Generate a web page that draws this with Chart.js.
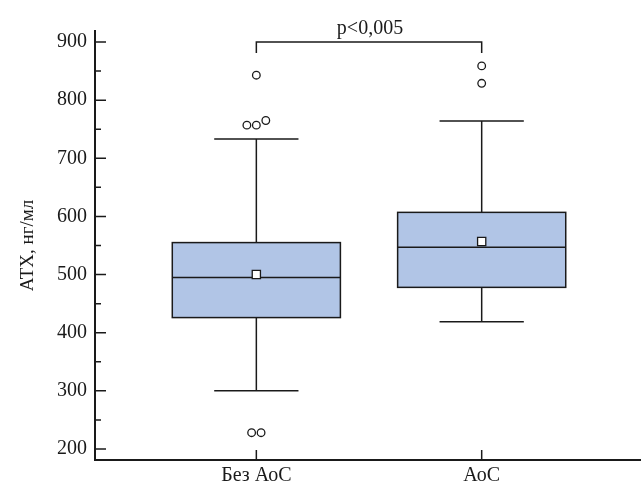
<!DOCTYPE html>
<html>
<head>
<meta charset="utf-8">
<script src="https://cdn.jsdelivr.net/npm/chart.js@4.4.1/dist/chart.umd.min.js"></script>
<style>
  html, body { margin: 0; padding: 0; background: #fff; }
  #wrap { width: 641px; height: 486px; }
</style>
</head>
<body>
<div id="wrap"><canvas id="chart"></canvas></div>
<script>
// Data
const groups = ['Без АоС', 'АоС']
const whiskerLow = [300, 419]
const q1 = [426, 478]
const median = [495, 547]
const q3 = [555, 607]
const whiskerHigh = [733, 764]
const means = [500, 557]
const outliers = [
  [843, 757, 757, 765, 228, 228],
  [859, 829],
]
const yTicks = [200, 300, 400, 500, 600, 700, 800, 900]
const yMinorTicks = [250, 350, 450, 550, 650, 750, 850]
const pText = 'p<0,005'

const INK = '#1a1a1a'
const BOX_FILL = 'rgb(177,197,230)'
const FONT = 'Liberation Serif'

// spread outliers with close values side by side
function dodge(values, center) {
  const sorted = [...values].sort((a, b) => a - b)
  const points = []
  let cluster = []
  const flush = () => {
    cluster.forEach((v, k) => {
      points.push({ x: center + (k - (cluster.length - 1) / 2) * 0.042, y: v })
    })
    cluster = []
  }
  sorted.forEach((v) => {
    if (cluster.length && v - cluster[0] > 12) flush()
    cluster.push(v)
  })
  flush()
  return points
}

const outlierPoints = []
outliers.forEach((vals, i) => outlierPoints.push(...dodge(vals, i + 1)))

const boxPlugin = {
  id: 'boxes',
  beforeDatasetsDraw(chart) {
    const { ctx, scales: { x, y } } = chart
    ctx.save()
    ctx.strokeStyle = INK
    ctx.lineWidth = 1.5
    groups.forEach((g, i) => {
      const cx = x.getPixelForValue(i + 1)
      const bl = x.getPixelForValue(i + 1 - 0.373)
      const br = x.getPixelForValue(i + 1 + 0.373)
      const cl = x.getPixelForValue(i + 1 - 0.187)
      const cr = x.getPixelForValue(i + 1 + 0.187)
      const yQ1 = y.getPixelForValue(q1[i])
      const yQ3 = y.getPixelForValue(q3[i])
      const yMed = y.getPixelForValue(median[i])
      const yLo = y.getPixelForValue(whiskerLow[i])
      const yHi = y.getPixelForValue(whiskerHigh[i])
      // whiskers
      ctx.beginPath()
      ctx.moveTo(cx, yQ3); ctx.lineTo(cx, yHi)
      ctx.moveTo(cl, yHi); ctx.lineTo(cr, yHi)
      ctx.moveTo(cx, yQ1); ctx.lineTo(cx, yLo)
      ctx.moveTo(cl, yLo); ctx.lineTo(cr, yLo)
      ctx.stroke()
      // box
      ctx.fillStyle = BOX_FILL
      ctx.fillRect(bl, yQ3, br - bl, yQ1 - yQ3)
      ctx.strokeRect(bl, yQ3, br - bl, yQ1 - yQ3)
      ctx.beginPath()
      ctx.moveTo(bl, yMed); ctx.lineTo(br, yMed)
      ctx.stroke()
    })
    ctx.restore()
  },
  afterDraw(chart) {
    const { ctx, scales: { x, y }, chartArea } = chart
    ctx.save()
    ctx.strokeStyle = INK
    ctx.lineWidth = 1.5
    // inward tick marks
    ctx.beginPath()
    yTicks.forEach((v) => {
      const py = y.getPixelForValue(v)
      ctx.moveTo(chartArea.left, py); ctx.lineTo(chartArea.left + 11, py)
    })
    yMinorTicks.forEach((v) => {
      const py = y.getPixelForValue(v)
      ctx.moveTo(chartArea.left, py); ctx.lineTo(chartArea.left + 6, py)
    })
    groups.forEach((g, i) => {
      const px = x.getPixelForValue(i + 1)
      ctx.moveTo(px, chartArea.bottom); ctx.lineTo(px, chartArea.bottom - 10)
    })
    ctx.stroke()
    // significance bracket
    const x1 = x.getPixelForValue(1)
    const x2 = x.getPixelForValue(2)
    const yTop = y.getPixelForValue(900)
    const yEnd = y.getPixelForValue(881)
    ctx.beginPath()
    ctx.moveTo(x1, yEnd); ctx.lineTo(x1, yTop); ctx.lineTo(x2, yTop); ctx.lineTo(x2, yEnd)
    ctx.stroke()
    ctx.fillStyle = INK
    ctx.font = '20px "' + FONT + '"'
    ctx.textAlign = 'center'
    ctx.textBaseline = 'alphabetic'
    ctx.fillText(pText, (x1 + x2) / 2 + 1, yTop - 8)
    ctx.restore()
  },
}

new Chart(document.getElementById('chart'), {
  type: 'scatter',
  data: {
    datasets: [
      {
        label: 'outliers',
        data: outlierPoints,
        pointStyle: 'circle',
        pointRadius: 3.8,
        borderWidth: 1.3,
        borderColor: INK,
        backgroundColor: '#fff',
        clip: false,
      },
      {
        label: 'means',
        data: means.map((v, i) => ({ x: i + 1, y: v })),
        pointStyle: 'rect',
        pointRadius: 5.8,
        borderWidth: 1.3,
        borderColor: INK,
        backgroundColor: '#fff',
        clip: false,
      },
    ],
  },
  options: {
    responsive: true,
    maintainAspectRatio: false,
    animation: false,
    events: [],
    layout: { autoPadding: false, padding: { top: 31, right: 0, left: 0, bottom: 0 } },
    plugins: { legend: { display: false }, tooltip: { enabled: false } },
    scales: {
      x: {
        type: 'linear',
        min: 0.284,
        max: 2.707,
        grid: { display: false, drawTicks: false },
        border: { display: true, color: INK, width: 2 },
        afterBuildTicks: (scale) => { scale.ticks = groups.map((g, i) => ({ value: i + 1 })) },
        afterFit: (scale) => { scale.height = 26 },
        ticks: {
          padding: 4,
          color: INK,
          font: { family: FONT, size: 20 },
          callback: (v) => groups[v - 1],
        },
      },
      y: {
        min: 181,
        max: 919,
        grid: { display: false, drawTicks: false },
        border: { display: true, color: INK, width: 2 },
        afterBuildTicks: (scale) => { scale.ticks = yTicks.map((v) => ({ value: v })) },
        afterFit: (scale) => { scale.width = 95 },
        ticks: {
          padding: 8,
          color: INK,
          font: { family: FONT, size: 20 },
        },
        title: {
          display: true,
          text: 'АТХ, нг/мл',
          color: INK,
          font: { family: FONT, size: 19 },
          padding: { top: 17, bottom: 0 },
        },
      },
    },
  },
  plugins: [boxPlugin],
})
</script>
</body>
</html>
